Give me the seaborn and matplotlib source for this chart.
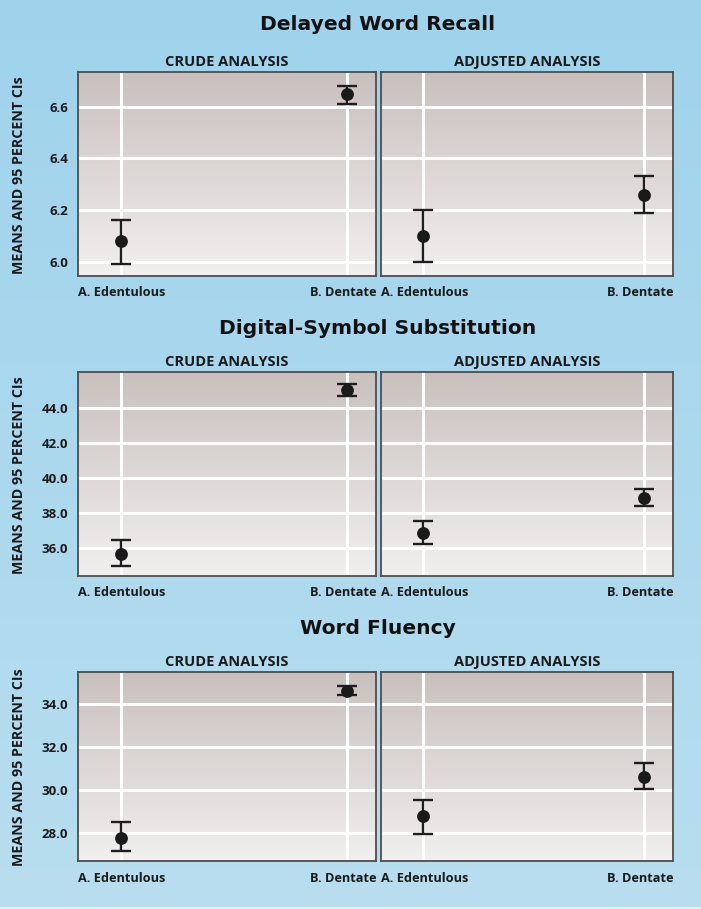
import numpy as np
import pandas as pd
import matplotlib
matplotlib.use("Agg")
import matplotlib.pyplot as plt
from matplotlib.colors import LinearSegmentedColormap
import seaborn as sns

# ---------------- data ----------------
outcomes = ["Delayed Word Recall", "Digital-Symbol Substitution", "Word Fluency"]
analyses = ["CRUDE ANALYSIS", "ADJUSTED ANALYSIS"]
groups = ["A. Edentulous", "B. Dentate"]

recall_crude_mean = [6.08, 6.65]
recall_crude_lo = [5.99, 6.61]
recall_crude_hi = [6.16, 6.68]
recall_adj_mean = [6.10, 6.26]
recall_adj_lo = [6.00, 6.19]
recall_adj_hi = [6.20, 6.33]

dss_crude_mean = [35.7, 45.05]
dss_crude_lo = [35.0, 44.72]
dss_crude_hi = [36.47, 45.37]
dss_adj_mean = [36.9, 38.86]
dss_adj_lo = [36.25, 38.40]
dss_adj_hi = [37.56, 39.41]

wf_crude_mean = [27.77, 34.62]
wf_crude_lo = [27.14, 34.43]
wf_crude_hi = [28.51, 34.87]
wf_adj_mean = [28.79, 30.62]
wf_adj_lo = [27.94, 30.06]
wf_adj_hi = [29.55, 31.26]

recall_ticks = [6.0, 6.2, 6.4, 6.6]
dss_ticks = [36.0, 38.0, 40.0, 42.0, 44.0]
wf_ticks = [28.0, 30.0, 32.0, 34.0]

ylabel = "MEANS AND 95 PERCENT CIs"

rows = []
series = {
    (0, 0): (recall_crude_mean, recall_crude_lo, recall_crude_hi),
    (0, 1): (recall_adj_mean, recall_adj_lo, recall_adj_hi),
    (1, 0): (dss_crude_mean, dss_crude_lo, dss_crude_hi),
    (1, 1): (dss_adj_mean, dss_adj_lo, dss_adj_hi),
    (2, 0): (wf_crude_mean, wf_crude_lo, wf_crude_hi),
    (2, 1): (wf_adj_mean, wf_adj_lo, wf_adj_hi),
}
for (r, c), (m, lo, hi) in series.items():
    for g, mm, l, h in zip(groups, m, lo, hi):
        rows.append(dict(outcome=outcomes[r], analysis=analyses[c], group=g,
                         mean=mm, lo=l, hi=h))
df = pd.DataFrame(rows)
ticks_by_row = [recall_ticks, dss_ticks, wf_ticks]

# ---------------- style ----------------
sns.set_theme(style="white")
plt.rcParams["font.family"] = ["Open Sans", "DejaVu Sans"]

W, H = 701, 909
fig = plt.figure(figsize=(W / 100, H / 100), dpi=100)

# figure background gradient
bg = fig.add_axes([0, 0, 1, 1], zorder=-10)
bg_cmap = LinearSegmentedColormap.from_list("bg", ["#b8deef", "#9fd3ec"])
bg.imshow(np.linspace(0, 1, 256).reshape(-1, 1)[::-1], cmap=bg_cmap, aspect="auto",
          extent=[0, 1, 0, 1], origin="upper")
bg.set_xlim(0, 1); bg.set_ylim(0, 1)
bg.axis("off")
bg.add_patch(plt.Rectangle((0, 0), 1, 2.5 / H, color="#e4f2f8", lw=0))

panel_cmap = LinearSegmentedColormap.from_list("panel", ["#f1efef", "#c9c0bd"])

# layout in pixels (top, bottom) of each row
row_px = [(72, 276), (372, 575.5), (672, 861)]
col_px = [(78, 376), (381, 673)]
ylims = [(5.945, 6.734), (34.46, 46.06), (26.69, 35.5)]
title_y = [24, 329, 629]

for r in range(3):
    fig.text(378 / W, 1 - title_y[r] / H, outcomes[r], ha="center", va="center",
             fontsize=14.6, fontweight="bold", family=["DejaVu Sans"],
             color="#111111")
    top, bot = row_px[r]
    for c in range(2):
        left, right = col_px[c]
        ax = fig.add_axes([left / W, 1 - bot / H, (right - left) / W, (bot - top) / H])
        sub = df[(df.outcome == outcomes[r]) & (df.analysis == analyses[c])]
        ax.imshow(np.linspace(0, 1, 256).reshape(-1, 1), cmap=panel_cmap, aspect="auto",
                  extent=[0, 1, 0, 1], origin="lower", transform=ax.transAxes, zorder=-5)
        xs = np.arange(len(sub))
        ax.errorbar(xs, sub["mean"], yerr=[sub["mean"] - sub["lo"], sub["hi"] - sub["mean"]],
                    fmt="none", ecolor="#1e1e1e", elinewidth=1.7, capsize=7.5,
                    capthick=1.7, zorder=3)
        sns.scatterplot(x=xs, y=sub["mean"].values, ax=ax, color="#1a1a1a", s=85,
                        edgecolor="#1a1a1a", linewidth=0, zorder=4, legend=False)
        ax.set_xlim(-0.19, 1.13)
        ax.set_ylim(*ylims[r])
        ax.set_xticks(xs)
        ax.set_xticklabels([])
        ax.set_yticks(ticks_by_row[r])
        if c == 0:
            ax.set_yticklabels([f"{t:.1f}" for t in ticks_by_row[r]], fontsize=9.5,
                               fontweight="bold", color="#1a1a1a")
            ax.set_ylabel(ylabel, fontsize=10.3, fontweight="bold", color="#1a1a1a",
                          va="center")
            ax.yaxis.set_label_coords((19.5 - left) / (right - left), 0.495)
        else:
            ax.set_yticklabels([])
        ax.tick_params(length=0, pad=7)
        ax.grid(True, color="white", lw=2.2)
        ax.set_axisbelow(True)
        for s in ax.spines.values():
            s.set_color("#4d4d4d")
            s.set_linewidth(1.3)
        ax.set_title(analyses[c], fontsize=10.5, fontweight="bold", color="#1a1a1a", pad=4)
        ax.text(0.0, -17 / (bot - top), sub["group"].iloc[0], transform=ax.transAxes,
                ha="left", va="center", fontsize=9.2, fontweight="bold", color="#1a1a1a")
        ax.text(1.0, -17 / (bot - top), sub["group"].iloc[1], transform=ax.transAxes,
                ha="right", va="center", fontsize=9.2, fontweight="bold", color="#1a1a1a")

fig.savefig("out.png", dpi=100)
